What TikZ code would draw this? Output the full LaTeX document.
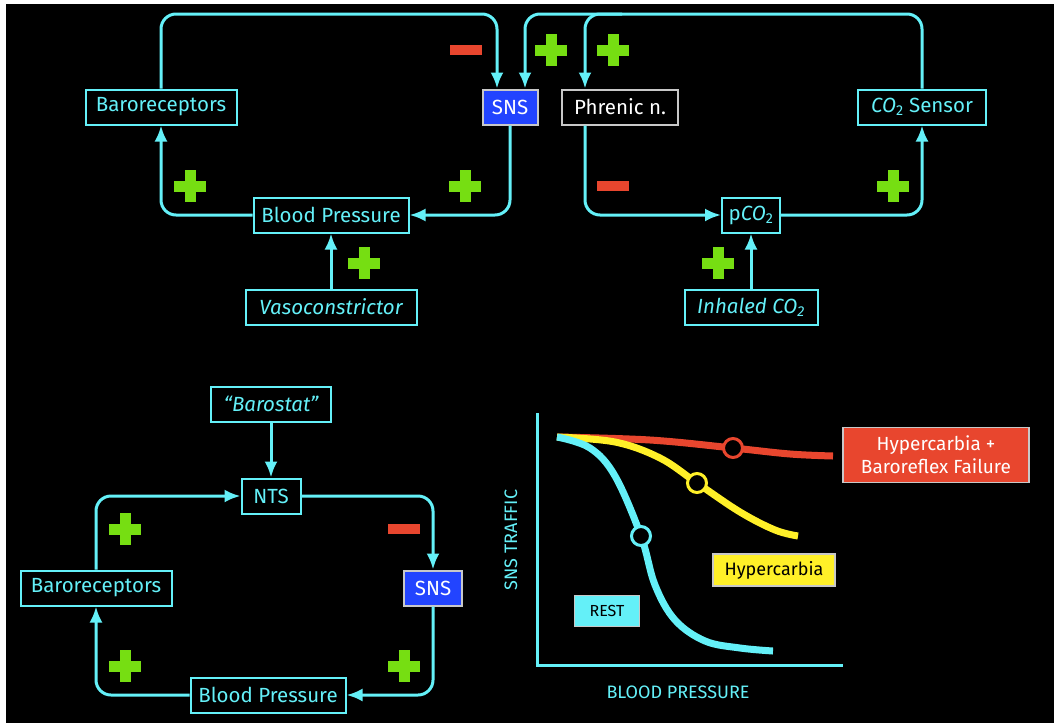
\documentclass[tikz,border=0pt]{standalone}
\usepackage{fontspec}
\setmainfont{Fira Sans}
\usetikzlibrary{arrows.meta}
\definecolor{cyn}{RGB}{100,240,248}
\definecolor{grn}{RGB}{118,222,18}
\definecolor{rdd}{RGB}{232,70,46}
\definecolor{blu}{RGB}{34,68,255}
\definecolor{ylw}{RGB}{255,240,40}
\definecolor{gry}{RGB}{200,200,200}
\tikzset{plussign/.pic={\fill[grn] (-16,-5.5) rectangle (16,5.5); \fill[grn] (-5.5,-16) rectangle (5.5,16);},
  minussign/.pic={\fill[rdd] (-16,-5) rectangle (16,5);}}

\begin{document}
\begin{tikzpicture}[x=1pt,y=-1pt,
  box/.style={draw=cyn, line width=2pt, text=cyn, minimum height=35pt, inner sep=2pt, font=\fontsize{20.5}{22}\selectfont},
  snsbox/.style={box, draw=gry, fill=blu, text=white},
  phrbox/.style={box, draw=gry, text=white},
  link/.style={draw=cyn, line width=3pt, rounded corners=15pt, -{Latex[length=16pt,width=13pt]}},
  crv/.style={line width=7pt, smooth, tension=.6},
  dot/.style={draw=#1, fill=black, circle, line width=3pt, minimum size=19pt, inner sep=0pt},
  tag/.style={draw=gry, line width=1.2pt, inner sep=2pt, align=center, font=\fontsize{19}{23}\selectfont},
  axlbl/.style={text=cyn, font=\fontsize{18}{19}\selectfont}]

\useasboundingbox (0,0) rectangle (1054,723);
\fill[white] (0,0) rectangle (1054,723);
\fill[black] (6,4) rectangle (1054,723);

%top left loop: baroreflex
\node[box, minimum width=151pt] (baroT) at (161,107) {Baroreceptors};
\node[snsbox, minimum width=55pt] (snsT) at (510,107) {SNS};
\node[box, minimum width=155pt] (bpT) at (331,215) {Blood Pressure};
\node[box, minimum width=171pt] (vaso) at (331,307) {\itshape Vasoconstrictor};

%top right loop: chemoreflex
\node[phrbox, minimum width=116pt] (phr) at (620,107) {Phrenic n.};
\node[box, minimum width=128pt] (co2T) at (922,107) {\textit{CO}\textsubscript{2} Sensor};
\node[box, minimum width=58pt] (pco2) at (751,215) {p\textit{CO}\textsubscript{2}};
\node[box, minimum width=133pt] (inh) at (751,307) {\itshape Inhaled CO\textsubscript{2}};

\coordinate (split) at (622,14);
\draw[link] (baroT.north) -- (baroT.north |- 0,14) -| ([xshift=-13pt]snsT.north);
\draw[link] (co2T.north) -- (co2T.north |- 0,14) -| ([xshift=15pt]snsT.north);
\draw[link] (split) -| ([xshift=-35pt]phr.north);
\draw[link] (snsT.south) |- (bpT.east);
\draw[link] (bpT.west) -| (baroT.south);
\draw[link] (vaso.north) -- (vaso.north |- bpT.south);
\draw[link] ([xshift=-35pt]phr.south) |- (pco2.west);
\draw[link] (pco2.east) -| (co2T.south);
\draw[link] (inh.north) -- (inh.north |- pco2.south);

\pic at (466,50) {minussign};
\pic at (551,50) {plussign};
\pic at (613,50) {plussign};
\pic at (190,186) {plussign};
\pic at (465,186) {plussign};
\pic at (613,186) {minussign};
\pic at (893,186) {plussign};
\pic at (364,263) {plussign};
\pic at (718,263) {plussign};

%bottom left loop
\node[box, minimum width=120pt] (barostat) at (271,404) {\itshape ``Barostat''};
\node[box, minimum width=59pt] (nts) at (271,496) {NTS};
\node[box, minimum width=151pt] (baroB) at (96,588) {Baroreceptors};
\node[snsbox, minimum width=58pt] (snsB) at (433,588) {SNS};
\node[box, minimum width=155pt] (bpB) at (268,695) {Blood Pressure};

\draw[link] (barostat.south) -- (nts.north);
\draw[link] (baroB.north) |- (nts.west);
\draw[link] (nts.east) -| (snsB.north);
\draw[link] (snsB.south) |- (bpB.east);
\draw[link] (bpB.west) -| (baroB.south);

\pic at (125,529) {plussign};
\pic at (404,529) {minussign};
\pic at (125,666) {plussign};
\pic at (404,666) {plussign};

%graph
\draw[cyn, line width=3pt] (537,413) -- (537,665) -- (843,665);
\node[axlbl, rotate=90] (ylbl) at (511,540) {SNS TRAFFIC};
\node[axlbl] (xlbl) at (678,692) {BLOOD PRESSURE};

\draw[crv, rdd] plot coordinates {(557,437) (650,440) (733,448) (790,454) (833,456)};
\draw[crv, ylw] plot coordinates {(557,437) (615,442) (660,458) (697,483) (740,512) (775,530) (798,536)};
\draw[crv, cyn] plot coordinates {(557,437) (590,448) (615,476) (641,536) (655,585) (675,620) (705,641) (740,648) (773,651)};
\node[dot=rdd] (rddot) at (733,448) {};
\node[dot=ylw] (ylwdot) at (697,483) {};
\node[dot=cyn] (cyndot) at (641,536) {};

\node[tag, fill=rdd, text=white, minimum width=186pt, minimum height=55pt] (failtag) at (936,455) {Hypercarbia +\\Baroreflex Failure};
\node[tag, fill=ylw, text=black, minimum width=122pt, minimum height=32pt, font=\fontsize{18}{20}\selectfont] (hyptag) at (774,570) {Hypercarbia};
\node[tag, fill=cyn, text=black, minimum width=65pt, minimum height=31pt, font=\fontsize{16}{18}\selectfont] (resttag) at (607,611) {REST};
\end{tikzpicture}
\end{document}
